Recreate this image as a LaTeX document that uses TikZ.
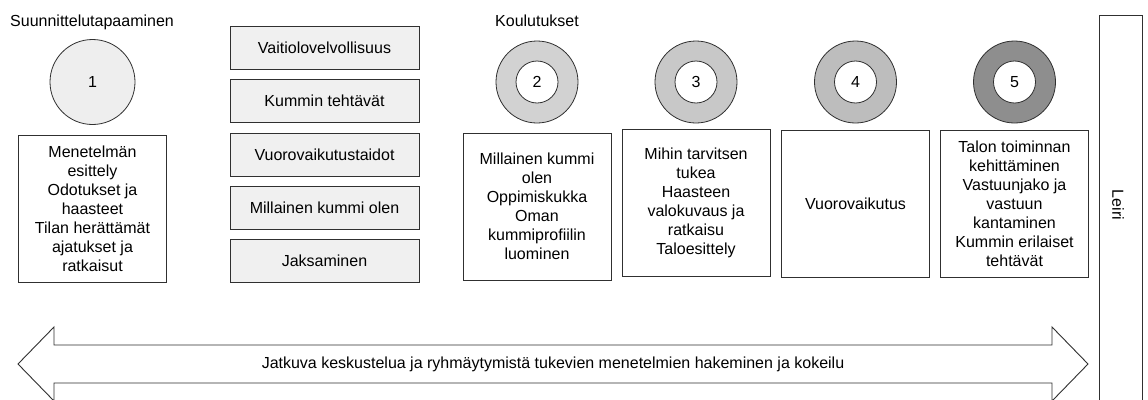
\documentclass[tikz,border=0pt]{standalone}
\usepackage{fontspec}
\setmainfont{Liberation Sans}
\definecolor{lightfill}{HTML}{EEEEEE}
\definecolor{boxfill}{HTML}{F0F0F0}
\definecolor{ringA}{HTML}{D2D2D2}
\definecolor{ringB}{HTML}{C8C8C8}
\definecolor{ringC}{HTML}{BDBDBD}
\definecolor{ringD}{HTML}{8E8E8E}
\definecolor{edge}{HTML}{303030}
\tikzset{
  txt/.style={font=\fontsize{16}{19}\selectfont, text=black},
  textbox/.style={txt, draw=edge, line width=1pt, fill=white, align=center, minimum width=148pt, minimum height=147pt, inner sep=0pt},
  graybox/.style={txt, draw=edge, line width=1pt, fill=boxfill, minimum width=189pt, minimum height=43pt, inner sep=0pt},
  outerring/.style={circle, draw=edge, line width=0.8pt, minimum size=82pt, inner sep=0pt},
  innerring/.style={txt, circle, draw=edge, line width=0.8pt, fill=white, minimum size=42pt, inner sep=0pt},
  title/.style={txt, inner sep=0pt, anchor=base west},
  arrowshape/.style={draw=edge, line width=0.9pt, fill=white}
}
\begin{document}
\begin{tikzpicture}[x=1pt,y=-1pt]
\useasboundingbox (0,0) rectangle (1148,399);
\fill[white] (0,0) rectangle (1148,399);

% titles
\node[title] (t1) at (10,26) {Suunnittelutapaaminen};
\node[title] (t2) at (495,26) {Koulutukset};

% circle 1
\node[txt, circle, draw=edge, line width=0.8pt, fill=lightfill, minimum size=85pt, inner sep=0pt] (c1) at (92.5,82) {1};

% text box 1
\node[textbox] (b1) at (92.5,209) {Menetelmän\\esittely\\Odotukset ja\\haasteet\\Tilan herättämät\\ajatukset ja\\ratkaisut};

% gray boxes
\node[graybox] (g1) at (324.5,47.5) {Vaitiolovelvollisuus};
\node[graybox] (g2) at (324.5,101) {Kummin tehtävät};
\node[graybox] (g3) at (324.5,154.5) {Vuorovaikutustaidot};
\node[graybox] (g4) at (324.5,207.5) {Millainen kummi olen};
\node[graybox] (g5) at (324.5,261) {Jaksaminen};

% rings
\node[outerring, fill=ringA] (c2) at (537,82) {};
\node[innerring] (c2in) at (c2) {2};
\node[outerring, fill=ringB] (c3) at (696,82) {};
\node[innerring] (c3in) at (c3) {3};
\node[outerring, fill=ringC] (c4) at (855.5,82) {};
\node[innerring] (c4in) at (c4) {4};
\node[outerring, fill=ringD] (c5) at (1014.5,82) {};
\node[innerring] (c5in) at (c5) {5};

% text boxes 2-5
\node[textbox] (b2) at (537,206.5) {Millainen kummi\\olen\\Oppimiskukka\\Oman\\kummiprofiilin\\luominen};
\node[textbox] (b3) at (696,203) {Mihin tarvitsen\\tukea\\Haasteen\\valokuvaus ja\\ratkaisu\\Taloesittely};
\node[textbox] (b4) at (855.5,203.5) {Vuorovaikutus};
\node[textbox] (b5) at (1014.5,203.5) {Talon toiminnan\\kehittäminen\\Vastuunjako ja\\vastuun\\kantaminen\\Kummin erilaiset\\tehtävät};

% Leiri column (open at the bottom)
\draw[draw=edge, line width=1pt] (1099,410) -- (1099,15) -- (1142,15) -- (1142,410);
\node[txt, rotate=-90] (leiri) at (1118,205) {Leiri};

% double arrow
\coordinate (ltip) at (18,364);
\coordinate (rtip) at (1088,364);
\draw[arrowshape] (ltip) -- (54,327) -- (54,345) -- (1052,345) -- (1052,327) -- (rtip)
  -- (1052,401) -- (1052,383) -- (54,383) -- (54,401) -- cycle;
\node[txt, inner sep=0pt] (atext) at (553,364) {Jatkuva keskustelua ja ryhmäytymistä tukevien menetelmien hakeminen ja kokeilu};
\end{tikzpicture}
\end{document}
